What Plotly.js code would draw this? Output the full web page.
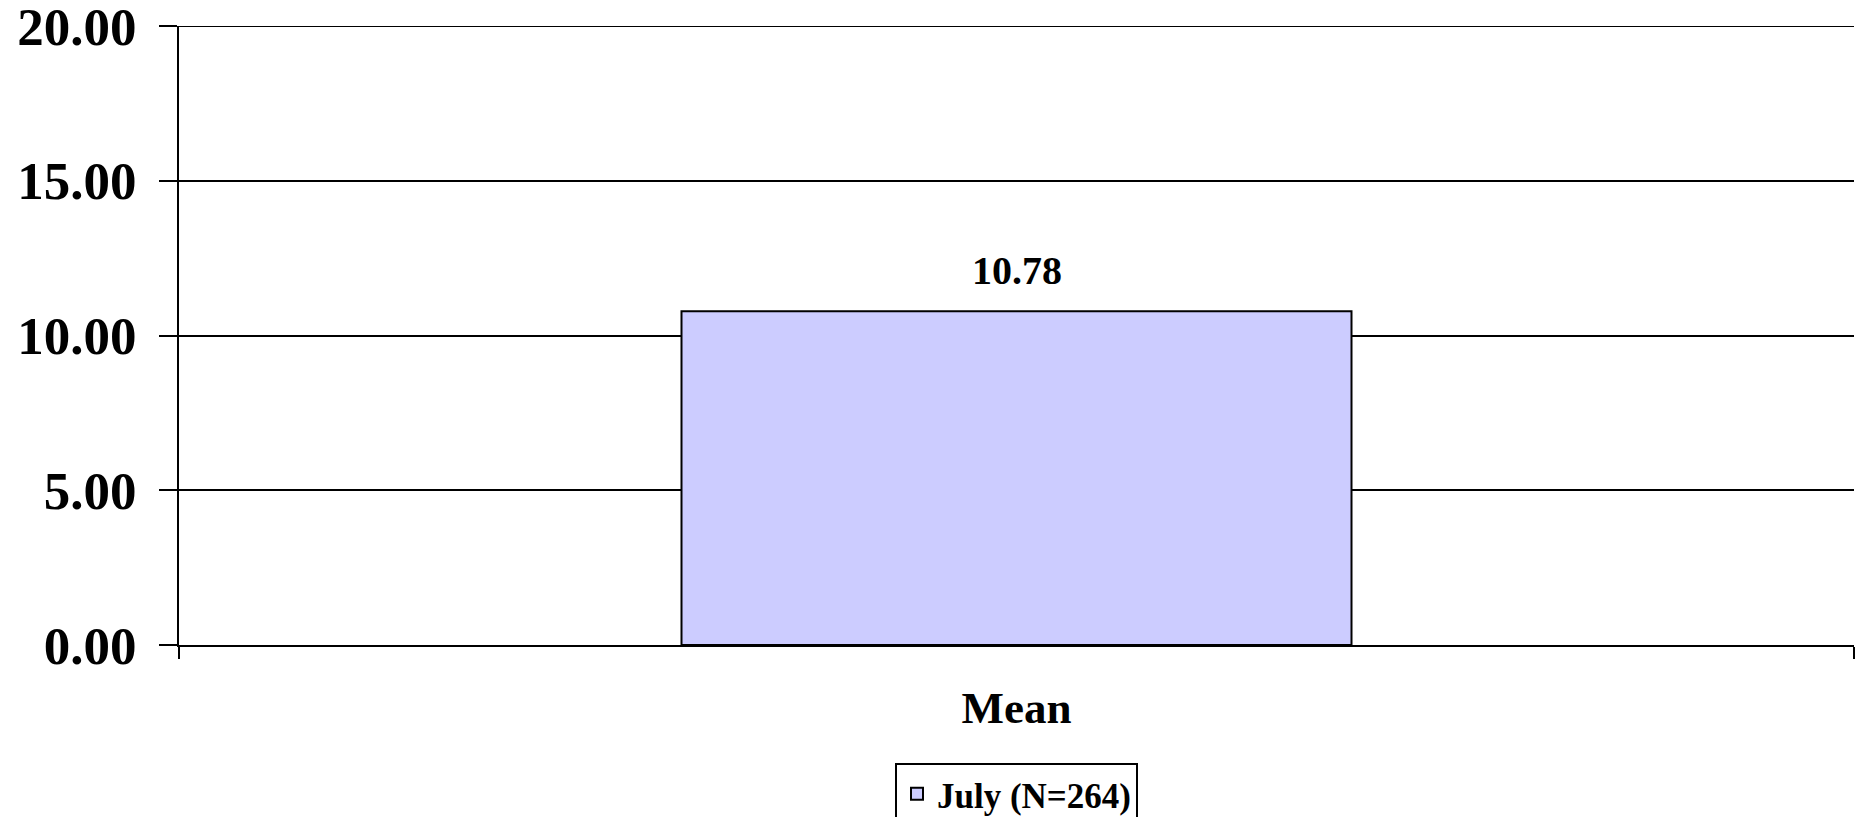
<!DOCTYPE html>
<html>
<head>
<meta charset="utf-8">
<script src="https://cdn.plot.ly/plotly-3.0.1.min.js"></script>
<style>html,body{margin:0;padding:0;background:#fff;}#chart{width:1860px;height:817px;}</style>
</head>
<body>
<div id="chart"></div>
<script>
const categories = ["Mean"];
const seriesName = "July (N=264)";
const julyValues = [10.78];
const yTickValues = [0, 5, 10, 15, 20];
const yMax = 20;

const FONT = "Liberation Serif, Times New Roman, serif";

const trace = {
  type: "bar",
  x: categories,
  y: julyValues,
  name: seriesName,
  marker: {color: "#CCCCFF", line: {color: "#000000", width: 2}},
  hoverinfo: "skip"
};

const annotations = categories.map((c, i) => ({
  x: c, y: julyValues[i], xref: "x", yref: "y",
  text: julyValues[i].toFixed(2),
  showarrow: false, yanchor: "bottom", yshift: 16,
  font: {family: FONT, size: 40, weight: 700, color: "#000"}
}));

const layout = {
  width: 1860, height: 817,
  margin: {l: 179, r: 6, t: 26, b: 172, autoexpand: false},
  paper_bgcolor: "#ffffff", plot_bgcolor: "#ffffff",
  bargap: 0.6,
  showlegend: true,
  legend: {
    orientation: "h", x: 0.5, xanchor: "center", xref: "paper",
    y: -0.19, yanchor: "top",
    bordercolor: "#000", borderwidth: 2, bgcolor: "#fff",
    font: {family: FONT, size: 35, weight: 700, color: "#000"},
    itemwidth: 30
  },
  xaxis: {
    type: "category",
    showline: true, linecolor: "#000", linewidth: 2,
    ticks: "outside", tickson: "boundaries", ticklen: 12, tickwidth: 2, tickcolor: "#000",
    showgrid: false,
    tickfont: {family: FONT, size: 45, weight: 700, color: "#000"},
    ticklabelstandoff: 22
  },
  yaxis: {
    range: [0, yMax], tickvals: yTickValues, tickformat: ".2f",
    showline: true, linecolor: "#000", linewidth: 2,
    ticks: "outside", ticklen: 18, tickwidth: 2, tickcolor: "#000",
    showgrid: true, gridcolor: "#000", gridwidth: 2,
    zeroline: false,
    ticklabeloverflow: "allow",
    tickfont: {family: FONT, size: 53, weight: 700, color: "#000"},
    ticklabelstandoff: 12
  },
  shapes: [{
    type: "line", xref: "paper", yref: "y", x0: 0, x1: 1, y0: yMax, y1: yMax,
    line: {color: "#000", width: 2}
  }],
  annotations: annotations
};

Plotly.newPlot("chart", [trace], layout, {displayModeBar: false, staticPlot: true});
</script>
</body>
</html>
